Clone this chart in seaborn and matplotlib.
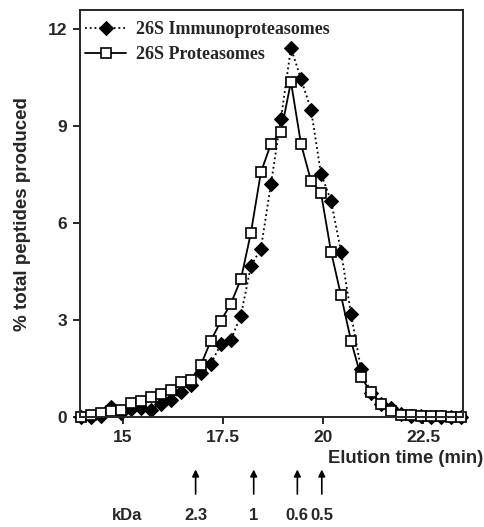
import matplotlib
matplotlib.use('Agg')
import matplotlib.pyplot as plt
import pandas as pd
import seaborn as sns

# elution times (min), one fraction every 0.25 min
times = [13.95, 14.2, 14.45, 14.7, 14.95, 15.2, 15.45, 15.7, 15.95, 16.2,
         16.45, 16.7, 16.95, 17.2, 17.45, 17.7, 17.95, 18.2, 18.45, 18.7,
         18.95, 19.2, 19.45, 19.7, 19.95, 20.2, 20.45, 20.7, 20.95, 21.2,
         21.45, 21.7, 21.95, 22.2, 22.45, 22.7, 22.95, 23.2, 23.45]

# % total peptides produced
immuno = [0.0, 0.02, 0.05, 0.33, 0.15, 0.25, 0.3, 0.23, 0.42, 0.54,
          0.77, 1.0, 1.36, 1.65, 2.27, 2.4, 3.15, 4.68, 5.22, 7.22,
          9.23, 11.43, 10.47, 9.52, 7.54, 6.7, 5.13, 3.19, 1.49, 0.75,
          0.4, 0.3, 0.1, 0.05, 0.03, 0.02, 0.0, 0.0, 0.0]
protea = [0.0, 0.06, 0.15, 0.2, 0.23, 0.44, 0.51, 0.63, 0.72, 0.85,
          1.08, 1.16, 1.62, 2.37, 2.98, 3.52, 4.27, 5.71, 7.58, 8.46,
          8.82, 10.38, 8.46, 7.32, 6.94, 5.13, 3.77, 2.37, 1.24, 0.78,
          0.42, 0.21, 0.08, 0.08, 0.03, 0.03, 0.03, 0.0, 0.0]

# molecular weight standards
std_kda = ['2.3', '1', '0.6', '0.5']
std_time = [16.82, 18.27, 19.36, 19.97]

df = pd.DataFrame({'time': times, 'immuno': immuno, 'protea': protea})

sns.set_style('ticks')
plt.rcParams['font.family'] = ['Liberation Sans', 'DejaVu Sans']

fig = plt.figure(figsize=(4.84, 5.27), dpi=100)
ax = fig.add_axes([0.165, 0.208, 0.792, 0.773])

sns.lineplot(data=df, x='time', y='immuno', ax=ax, color='black',
             linestyle=':', linewidth=1.3, marker='D', markersize=7,
             markerfacecolor='black', markeredgecolor='black',
             label='26S Immunoproteasomes', clip_on=False)
sns.lineplot(data=df, x='time', y='protea', ax=ax, color='black',
             linestyle='-', linewidth=1.3, marker='s', markersize=6.5,
             markerfacecolor='white', markeredgecolor='black',
             markeredgewidth=1.2, label='26S Proteasomes', clip_on=False)

ax.set_xlim(13.93, 23.5)
ax.set_ylim(0, 12.6)
ax.set_xticks([15, 17.5, 20, 22.5])
ax.set_xticklabels(['15', '17.5', '20', '22.5'])
ax.set_yticks([0, 3, 6, 9, 12])
for s in ax.spines.values():
    s.set_linewidth(1.4)
ax.tick_params(width=1.4, length=5, labelsize=12.5, pad=4)
for lab in ax.get_xticklabels() + ax.get_yticklabels():
    lab.set_fontweight('bold')

ax.set_ylabel('% total peptides produced', fontsize=13.5, fontweight='bold',
              labelpad=12)
ax.set_xlabel('Elution time (min)', fontsize=13.3, fontweight='bold',
              ha='right', va='center')
ax.xaxis.set_label_coords(1.052, -0.1)

leg = ax.legend(loc='upper left', bbox_to_anchor=(-0.006, 0.99),
                frameon=False, handlelength=2.3, handletextpad=0.55,
                borderaxespad=0, labelspacing=0.42,
                prop={'family': 'Liberation Serif', 'weight': 'bold',
                      'size': 13})

# standards arrows below the axis
for t, k in zip(std_time, std_kda):
    ax.annotate('', xy=(t, -0.121), xytext=(t, -0.195),
                xycoords=('data', 'axes fraction'),
                textcoords=('data', 'axes fraction'),
                arrowprops=dict(arrowstyle='-|>', color='black', lw=1.2,
                                mutation_scale=10), annotation_clip=False)
    ax.text(t, -0.24, k, transform=ax.get_xaxis_transform(), ha='center',
            va='center', fontsize=12, fontweight='bold')
ax.text(15.12, -0.24, 'kDa', transform=ax.get_xaxis_transform(), ha='center',
        va='center', fontsize=12, fontweight='bold')

fig.savefig('out.png', dpi=100)
